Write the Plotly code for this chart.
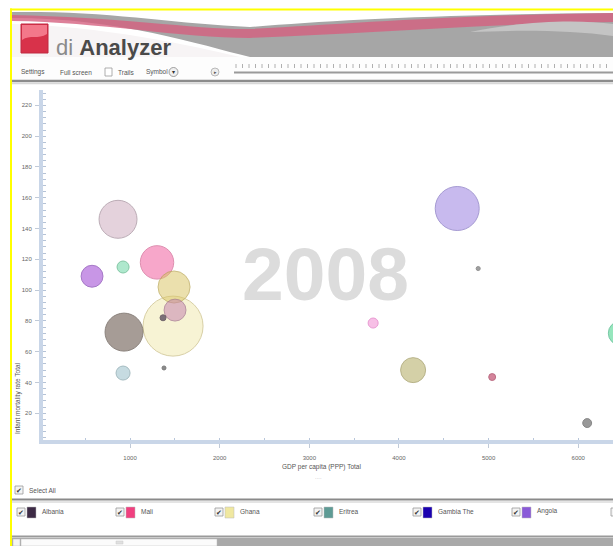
import plotly.graph_objects as go

# ---------------- data ----------------
countries = ["Ghana", "Guinea-Bissau", "Mali", "Guinea", "Eritrea", "Benin", "Burkina Faso",
             "Albania", "Gambia The", "Comoros", "Sao Tome", "Angola",
             "Djibouti", "Bhutan", "Morocco", "Cape Verde", "Namibia", "Swaziland"]
gdp_per_capita = [1480, 866, 1301, 576, 922, 1491, 1502, 933, 1368, 922, 1379,
                  4650, 4884, 3712, 4158, 5040, 6100, 6470]
infant_mortality = [76.6, 146, 118, 109, 115, 102, 87, 72.7, 82, 46.1, 49.4,
                    153, 114, 78.6, 48, 43.5, 13.6, 72]
population = [150, 60, 46.5, 20, 6, 42.7, 20, 60, 1.5, 8.2, 0.4,
              80.7, 0.7, 4.2, 26, 2, 3.3, 24]
year_label = "2008"
x_ticks = [1000, 2000, 3000, 4000, 5000, 6000]
y_ticks = [20, 40, 60, 80, 100, 120, 140, 160, 180, 200, 220]
legend_names = ["Albania", "Mali", "Ghana", "Eritrea", "Gambia The", "Angola"]

# ---------------- styles ----------------
fill_colors = ["rgba(243,236,184,0.85)", "rgba(214,185,201,0.9)", "rgba(244,118,172,0.9)",
               "rgba(168,91,216,0.9)", "rgba(127,220,176,0.9)", "rgba(218,196,100,0.75)",
               "rgba(200,136,176,0.8)", "rgba(122,108,98,0.95)", "rgba(70,56,80,1)",
               "rgba(166,200,208,0.9)", "rgba(90,90,90,1)", "rgba(168,148,228,0.9)",
               "rgba(120,120,120,1)", "rgba(244,154,216,0.9)", "rgba(188,182,118,0.9)",
               "rgba(192,72,106,0.95)", "rgba(110,110,110,1)", "rgba(90,216,152,0.9)"]
line_colors = ["#c8bc80", "#a08a98", "#d0608f", "#8040b0", "#50b080", "#b8a450", "#a07090",
               "#5a4e46", "#3a2a40", "#80a0a8", "#444", "#8070c0",
               "#666", "#e070c0", "#9a9458", "#a03050", "#555", "#40b080"]
legend_colors = ["#3d2a45", "#f0407f", "#f0e8a0", "#5e9b95", "#1a00b0", "#8a5ad8"]

W, H = 613, 546
L, T, R_, B = 43, 90, 613, 440


def px(x):
    return (x - L) / (R_ - L)


def py(y):
    return (B - y) / (B - T)


def path(cmds):
    out = []
    for c, pts in cmds:
        if not pts:
            out.append(c)
            continue
        step = 3 if c == "C" else 1
        for i in range(0, len(pts), step):
            grp = pts[i:i + step]
            s = " ".join(f"{px(a):.5f},{py(b):.5f}" for a, b in grp)
            out.append(f"{c} {s}")
    return " ".join(out)


shapes = []
ann = []


def add_path(cmds, fill):
    shapes.append(dict(type="path", xref="paper", yref="paper", layer="above",
                       path=path(cmds), fillcolor=fill, line=dict(width=0)))


def rect(x0, y0, x1, y1, fill, line=None, lw=0):
    shapes.append(dict(type="rect", xref="paper", yref="paper", x0=px(x0), x1=px(x1),
                       y0=py(y1), y1=py(y0), fillcolor=fill,
                       line=dict(color=line or fill, width=lw), layer="above"))


def hline(x0, x1, y, color, w):
    shapes.append(dict(type="line", xref="paper", yref="paper", x0=px(x0), x1=px(x1),
                       y0=py(y), y1=py(y), line=dict(color=color, width=w), layer="above"))


def text(x, y, s, size=7, color="#555", xanchor="left", **kw):
    ann.append(dict(x=px(x), y=py(y), xref="paper", yref="paper", text=s, showarrow=False,
                    xanchor=xanchor, yanchor="middle",
                    font=dict(size=size, color=color, family="Liberation Sans, Arial"), **kw))


def checkbox(x, y, mark=True):
    rect(x, y - 4, x + 8, y + 4, "#f4f4f4", "#999", 0.8)
    if mark:
        text(x + 4, y, "✔", size=7, color="#333", xanchor="center")


# ---------------- header ----------------
add_path([("M", [(12, 12)]), ("L", [(613, 12), (613, 57), (250, 57)]),
          ("C", [(200, 45), (120, 18), (12, 18)]), ("Z", [])], "#a6a6a6")
add_path([("M", [(40, 12)]), ("L", [(613, 12), (613, 13)]),
          ("C", [(450, 14), (330, 20), (250, 27)]),
          ("C", [(180, 24), (120, 13), (40, 12)]), ("Z", [])], "#ffffff")
add_path([("M", [(12, 15)]), ("C", [(120, 17), (200, 30), (250, 29)]),
          ("C", [(350, 24), (450, 15), (613, 13)]),
          ("L", [(613, 22)]), ("C", [(480, 24), (360, 34), (250, 38)]),
          ("C", [(180, 38), (100, 22), (12, 21)]), ("Z", [])], "rgba(212,96,128,0.8)")
add_path([("M", [(470, 32)]), ("C", [(530, 20), (580, 20), (613, 24)]),
          ("L", [(613, 36)]), ("C", [(570, 30), (520, 30), (470, 32)]), ("Z", [])], "#c4c4c4")
add_path([("M", [(12, 24)]), ("C", [(100, 26), (190, 45), (240, 57)]),
          ("L", [(12, 57)]), ("Z", [])], "#f7f4f5")
# logo
shapes.append(dict(type="rect", xref="paper", yref="paper", layer="above",
                   x0=px(21), x1=px(48), y0=py(53), y1=py(24),
                   fillcolor="#d8324a", line=dict(color="#c02840", width=1)))
add_path([("M", [(22, 25)]), ("L", [(47, 25), (47, 34)]),
          ("C", [(38, 40), (30, 34), (22, 40)]), ("Z", [])], "rgba(255,150,165,0.7)")
text(54, 47, "<span style='color:#8a8a8a'>di </span><b>Analyzer</b>", size=22, color="#4a4a4a")

# toolbar
rect(12, 57, 613, 80, "#fdfdfd")
text(19, 72, "Settings", size=6.5)
text(58, 72, "Full screen", size=6.5)
rect(105, 68, 112, 76, "#ffffff", "#999", 0.8)
text(116, 72, "Trails", size=6.5)
text(144, 72, "Symbol", size=6.5)
shapes.append(dict(type="circle", xref="paper", yref="paper", layer="above",
                   x0=px(169), x1=px(178), y0=py(76.5), y1=py(67.5),
                   fillcolor="#f0f0f0", line=dict(color="#888", width=0.8)))
text(173.5, 72, "▾", size=6, color="#333", xanchor="center")
shapes.append(dict(type="circle", xref="paper", yref="paper", layer="above",
                   x0=px(211), x1=px(219), y0=py(76), y1=py(68),
                   fillcolor="#eeeeee", line=dict(color="#aaa", width=0.8)))
text(215, 72, "▸", size=5, color="#555", xanchor="center")
for i in range(60):
    xx = 236 + i * 6.5
    if xx > 612:
        break
    shapes.append(dict(type="line", xref="paper", yref="paper", layer="above",
                       x0=px(xx), x1=px(xx), y0=py(68), y1=py(64),
                       line=dict(color="#b0b0b0", width=1)))
hline(234, 613, 72.5, "#9a9a9a", 2)
hline(12, 613, 81, "#8c8c8c", 2.5)
hline(12, 613, 83.5, "#d8d8d8", 1.5)

# ---------------- plot texts ----------------
text(321, 467, "GDP per capita (PPP) Total", size=6.5, color="#555", xanchor="center")
text(318, 478, "····", size=5, color="#aaa", xanchor="center")
ann.append(dict(x=px(18), y=py(398), xref="paper", yref="paper", text="Infant mortality rate Total",
                showarrow=False, textangle=-90, xanchor="center", yanchor="middle",
                font=dict(size=6.5, color="#555", family="Liberation Sans, Arial")))
ann.append(dict(x=px(325), y=py(274), xref="paper", yref="paper", text=f"<b>{year_label}</b>",
                showarrow=False, xanchor="center", yanchor="middle",
                font=dict(size=75, color="#dcdcdc", family="Liberation Sans, Arial")))

# ---------------- footer / legend ----------------
checkbox(15, 490)
text(27, 490, "Select All", size=6.5)
hline(12, 613, 499.5, "#8a8a8a", 2)
hline(12, 613, 502, "#e4e4e4", 2)
for i, (nm, col) in enumerate(zip(legend_names, legend_colors)):
    x0 = 17 + i * 99
    checkbox(x0, 512)
    rect(x0 + 10, 507, x0 + 19, 518, col, "#bbb", 0.5)
    text(x0 + 23, 511, nm, size=6.5)
checkbox(611, 512, mark=False)
hline(12, 613, 536.5, "#9a9a9a", 2)
rect(12, 538, 613, 546, "#a9a9a9")
rect(13, 539, 20, 546, "#f4f4f4", "#bbb", 0.5)
rect(21, 539, 217, 546, "#fbfbfb", "#bbb", 0.5)
rect(116, 541, 123, 544, "#e0e0e0", "#c8c8c8", 0.5)

# yellow frame
rect(10, 8.5, 613, 10.5, "#ffff00")
rect(10, 8.5, 12, 546, "#ffff00")

# ---------------- figure ----------------
sizeref = 2.0 * max(population) / (60 ** 2)
fig = go.Figure(go.Scatter(
    x=gdp_per_capita, y=infant_mortality, mode="markers", text=countries,
    marker=dict(size=population, sizemode="area", sizeref=sizeref, sizemin=2,
                color=fill_colors, line=dict(color=line_colors, width=1)),
    hovertemplate="%{text}<br>GDP %{x}<br>IMR %{y}<extra></extra>", cliponaxis=True))

fig.update_layout(
    width=W, height=H, margin=dict(l=L, r=W - R_, t=T, b=H - B, autoexpand=False),
    paper_bgcolor="#ffffff", plot_bgcolor="#ffffff", showlegend=False,
    shapes=shapes, annotations=ann,
    font=dict(family="Liberation Sans, Arial", size=6, color="#666"),
    xaxis=dict(range=[29, 6388], tickvals=x_ticks, showgrid=False, zeroline=False,
               showline=True, linecolor="#c9d6e8", linewidth=4,
               ticks="outside", ticklen=4, tickcolor="#c0cad8", ticklabelstandoff=5,
               tickfont=dict(size=6, color="#666"), automargin=False,
               minor=dict(ticks="inside", ticklen=2, tickcolor="#b8c6da", dtick=500)),
    yaxis=dict(range=[2.6, 230], tickvals=y_ticks, showgrid=False, zeroline=False,
               showline=True, linecolor="#c9d6e8", linewidth=4,
               ticks="outside", ticklen=4, tickcolor="#c0cad8", ticklabelstandoff=2,
               tickfont=dict(size=6, color="#666"), automargin=False,
               minor=dict(ticks="inside", ticklen=3, tickcolor="#b4c2d6", dtick=4)),
)
fig.write_html("out.html", config={"displayModeBar": False},
               post_script="document.body.style.margin='0';")
